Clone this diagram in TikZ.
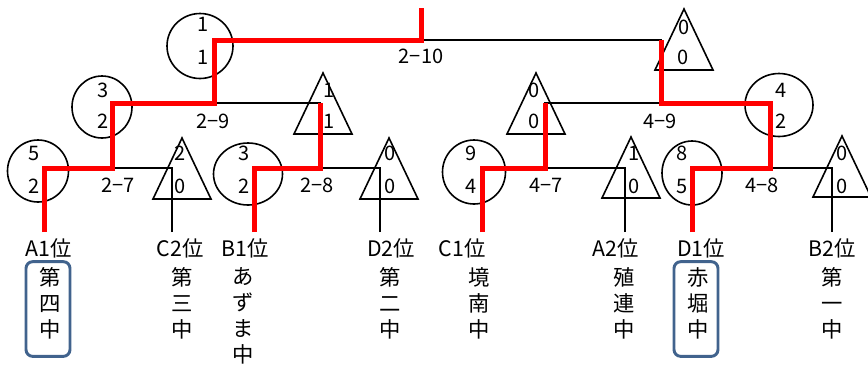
\documentclass[tikz,border=0pt]{standalone}
\usepackage{fontspec}
\setmainfont{Noto Sans CJK JP}
\usetikzlibrary{positioning,shapes.geometric,fit}
\definecolor{winline}{HTML}{FF0000}
\definecolor{pickbox}{HTML}{41638D}

\begin{document}
\begin{tikzpicture}[
  x=0.75pt, y=-0.75pt,
  font=\fontsize{15}{19.5}\selectfont,
  score/.style 2 args={draw, ellipse, line width=1.2pt, minimum width=#1, minimum height=#2, inner sep=0},
  tri/.pic={\draw[line width=1.2pt] (0,0) -- (-29,61) -- (29,61) -- cycle;},
  num/.style={inner sep=0},
  loser/.style={line width=1.6pt},
  winner/.style={line width=3.75pt, winline},
  seed/.style={inner sep=0, font=\fontsize{16}{19.5}\selectfont},
  school/.style={align=center, inner sep=0, anchor=north, font=\fontsize{16}{19.5}\selectfont},
  pick/.style={draw=pickbox, line width=2.2pt, rounded corners=5pt, minimum width=33pt, minimum height=71pt}
]
  \useasboundingbox (0,0) rectangle (868,365);

  % score marks
  \node[score={49.5pt}{48.75pt}] (s210) at (200,46) {};
  \node[score={45pt}{46.5pt}] (s29) at (102,107) {};
  \node[score={51pt}{47.25pt}] (s49) at (779,105) {};
  \node[score={45.75pt}{46.5pt}] (s27) at (38,171) {};
  \node[score={51.75pt}{46.5pt}] (s28) at (248,174) {};
  \node[score={47.25pt}{48pt}] (s47) at (474,172) {};
  \node[score={45pt}{48pt}] (s48) at (692,173) {};
  \pic (t210) at (684,9) {tri};
  \pic (t29) at (323,73) {tri};
  \pic (t49) at (536,73) {tri};
  \pic (t27) at (182,138) {tri};
  \pic (t28) at (389,138) {tri};
  \pic (t47) at (631,137) {tri};
  \pic (t48) at (842,136) {tri};

  % bracket points
  \coordinate (a1) at (44,232);
  \coordinate (c2) at (172,232);
  \coordinate (b1) at (254,232);
  \coordinate (d2) at (380,232);
  \coordinate (c1) at (482,232);
  \coordinate (a2) at (625,232);
  \coordinate (d1) at (692,232);
  \coordinate (b2) at (832,232);
  \coordinate (m27) at (112,168);
  \coordinate (m28) at (320,168);
  \coordinate (m47) at (545,168);
  \coordinate (m48) at (770,168);
  \coordinate (m29) at (214,103);
  \coordinate (m49) at (661,103);
  \coordinate (m210) at (421,40);
  \coordinate (champ) at (421,8);

  \draw[loser] (c2) |- (m27);
  \draw[loser] (d2) |- (m28);
  \draw[loser] (a2) |- (m47);
  \draw[loser] (b2) |- (m48);
  \draw[loser] (m28) |- (m29);
  \draw[loser] (m47) |- (m49);
  \draw[loser] (m49) |- (m210);

  \draw[winner] (a1) |- (m27) |- (m29) |- (m210) -- (champ);
  \draw[winner] (b1) |- (m28) -- (m28 |- m29);
  \draw[winner] (c1) |- (m47) -- (m47 |- m49);
  \draw[winner] (d1) |- (m48) |- (m49) -- (m49 |- m210);

  % scores
  \node[num] (n210a) at (203,24) {1};
  \node[num] (n210b) at (203,57) {1};
  \node[num] (n210c) at (684,27) {0};
  \node[num] (n210d) at (683,57) {0};
  \node[num] (n29a) at (103,90) {3};
  \node[num] (n29b) at (103,121) {2};
  \node[num] (n29c) at (329,90) {1};
  \node[num] (n29d) at (329,121) {1};
  \node[num] (n49a) at (534,90) {0};
  \node[num] (n49b) at (534,121) {0};
  \node[num] (n49c) at (781,90) {4};
  \node[num] (n49d) at (781,121) {2};
  \node[num] (n27a) at (34,153) {5};
  \node[num] (n27b) at (34,186) {2};
  \node[num] (n27c) at (180,153) {2};
  \node[num] (n27d) at (180,186) {0};
  \node[num] (n28a) at (244,153) {3};
  \node[num] (n28b) at (244,186) {2};
  \node[num] (n28c) at (390,153) {0};
  \node[num] (n28d) at (390,186) {0};
  \node[num] (n47a) at (471,153) {9};
  \node[num] (n47b) at (471,186) {4};
  \node[num] (n47c) at (634,153) {1};
  \node[num] (n47d) at (634,186) {0};
  \node[num] (n48a) at (682,153) {8};
  \node[num] (n48b) at (682,186) {5};
  \node[num] (n48c) at (842,153) {0};
  \node[num] (n48d) at (842,186) {0};

  % match numbers
  \node[num] (g27) at (118,185) {2−7};
  \node[num] (g28) at (317,185) {2−8};
  \node[num] (g47) at (546,185) {4−7};
  \node[num] (g48) at (762,185) {4−8};
  \node[num] (g29) at (213,121) {2−9};
  \node[num] (g49) at (660,121) {4−9};
  \node[num] (g210) at (421,56) {2−10};

  % seeds
  \node[seed] (la1) at (49,248) {A1位};
  \node[seed] (lc2) at (180,248) {C2位};
  \node[seed] (lb1) at (245,248) {B1位};
  \node[seed] (ld2) at (391,248) {D2位};
  \node[seed] (lc1) at (462,248) {C1位};
  \node[seed] (la2) at (616,248) {A2位};
  \node[seed] (ld1) at (701,248) {D1位};
  \node[seed] (lb2) at (832,248) {B2位};

  % schools
  \node[school] (sc4) at (50,267) {第\\四\\中};
  \node[school] (sc3) at (182,267) {第\\三\\中};
  \node[school] (scz) at (243,267) {あ\\ず\\ま\\中};
  \node[school] (sc2) at (390,267) {第\\二\\中};
  \node[school] (sck) at (479,267) {境\\南\\中};
  \node[school] (scs) at (624,267) {殖\\連\\中};
  \node[school] (sca) at (698,267) {赤\\堀\\中};
  \node[school] (sc1) at (832,267) {第\\一\\中};

  \node[pick] (pk4) at (48,309) {};
  \node[pick] (pka) at (696,309) {};
\end{tikzpicture}
\end{document}
